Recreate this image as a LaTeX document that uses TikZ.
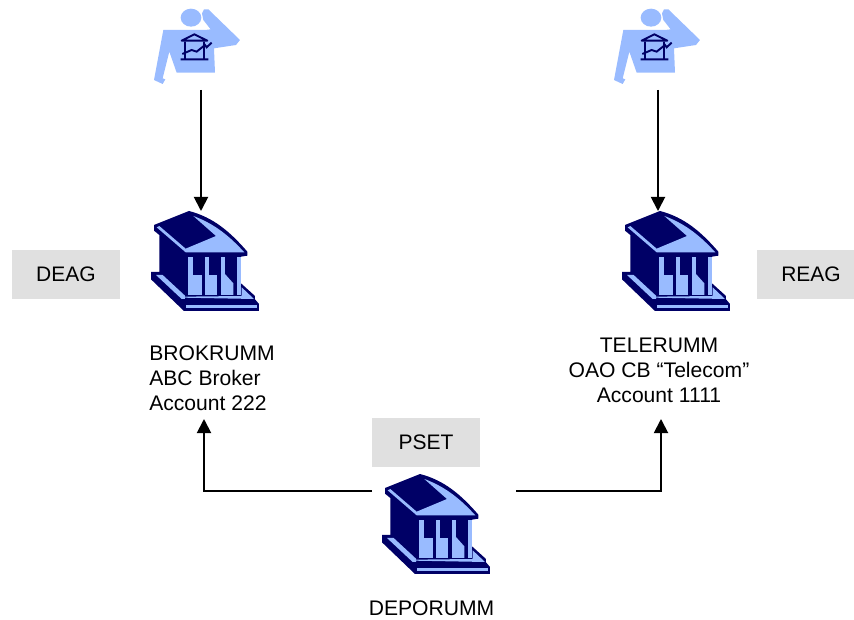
\documentclass[tikz,border=0pt]{standalone}
\usepackage{fontspec}
\setmainfont{Liberation Sans}
\usetikzlibrary{arrows.meta}
\definecolor{bankdark}{HTML}{000066}
\definecolor{banklight}{HTML}{99BBFF}
\definecolor{tagfill}{HTML}{E0E0E0}
\tikzset{
  x=1pt,y=-1pt,
  tagbox/.style={fill=tagfill,minimum width=108pt,minimum height=49pt,inner sep=0pt,font=\fontsize{21}{25}\selectfont},
  caption/.style={inner sep=0pt,font=\fontsize{21.1}{25}\selectfont},
  anchorbox/.style={inner sep=0pt,outer sep=0pt},
  link/.style={draw=black,line width=1.9pt,-{Triangle[length=14pt,width=14pt]}},
  bank/.pic={
    \begin{scope}[x=0.3333pt,y=-0.3333pt]
    \fill[bankdark] (147,33) .. controls (220,52) and (270,95) .. (322,155)--(322,167)--(303,170)--(303,250)--(345,288)--(345,298)--(357,312)--(357,333)--(132,333)--(33,238)--(33,216)--(58,216)--(58,105)--(42,92)--(42,75)--cycle;
    \fill[banklight] (50,82)--(137,157)--(313,157) .. controls (270,110) and (225,72) .. (160,48)--(228,108)--(137,146)--(58,78)--cycle;
    \fill[banklight] (145,170) rectangle (160,285);
    \fill[banklight] (195,170) rectangle (208,285);
    \fill[banklight] (242,170) rectangle (255,285);
    \fill[banklight] (290,170) rectangle (303,285);
    \fill[banklight] (160,224) rectangle (185,285);
    \fill[banklight] (208,224) rectangle (232,285);
    \fill[banklight] (255,222)--(280,250)--(280,285)--(255,285)--cycle;
    \fill[banklight] (48,225)--(68,225)--(135,287)--(135,297)--(125,297)--cycle;
    \fill[banklight] (128,293)--(342,297)--(305,262)--(305,288)--(128,290)--cycle;
    \fill[banklight] (137,315) rectangle (352,325);
    \end{scope}},
  person/.pic={
    \begin{scope}[x=0.3333pt,y=-0.3333pt]
    \fill[banklight] (153,53) ellipse [x radius=31,y radius=27];
    \fill[banklight] (70,90)--(195,90)--(212,88)--(190,60)--(186,40)--(192,28)--(205,28)--(300,120)--(288,135)--(222,145)--(225,218)--(110,218)--(88,155)--(68,235)--(76,238)--(68,252)--(42,240)--cycle;
    \draw[bankdark,line width=1.9pt,line join=round] (125,122)--(163,103)--(202,122)--cycle;
    \draw[bankdark,line width=1.9pt] (135,125)--(135,178) (192,125)--(192,178) (122,178)--(205,178) (127,162)--(155,150)--(170,155)--(195,135)--(200,142)--(215,128);
    \end{scope}}
}
\begin{document}
\begin{tikzpicture}
\useasboundingbox (0,0) rectangle (854,620);
\node[tagbox] (deag) at (66,274.5) {DEAG};
\node[tagbox,minimum width=108pt] (reag) at (811,274.5) {REAG};
\node[tagbox] (pset) at (426,442) {PSET};

\pic at (140,0) {person};
\pic at (600,0) {person};
\pic at (140,200) {bank};
\pic at (611,200) {bank};
\pic at (371,463) {bank};

\node[anchorbox,minimum width=90pt,minimum height=80pt] (traderA) at (201,50) {};
\node[anchorbox,minimum width=90pt,minimum height=80pt] (traderB) at (658,50) {};
\node[anchorbox,minimum width=100pt,minimum height=100pt] (bankA) at (201,261) {};
\node[anchorbox,minimum width=100pt,minimum height=100pt] (bankB) at (658,261) {};
\node[anchorbox,minimum width=144pt,minimum height=100pt] (bankC) at (444,491) {};

\node[caption,align=left] (broker) at (212,378) {BROKRUMM\\ABC Broker\\Account 222};
\node[caption,align=center] (telecom) at (659,370) {TELERUMM\\OAO CB “Telecom”\\Account 1111};
\node[caption] (depo) at (431.5,608.5) {DEPORUMM};
\coordinate (brokerEnd) at (204,419);
\coordinate (telecomEnd) at (661,419);

\draw[link] (traderA.south) -- (bankA.north);
\draw[link] (traderB.south) -- (bankB.north);
\draw[link] (bankC.west) -| (brokerEnd);
\draw[link] (bankC.east) -| (telecomEnd);
\end{tikzpicture}
\end{document}
